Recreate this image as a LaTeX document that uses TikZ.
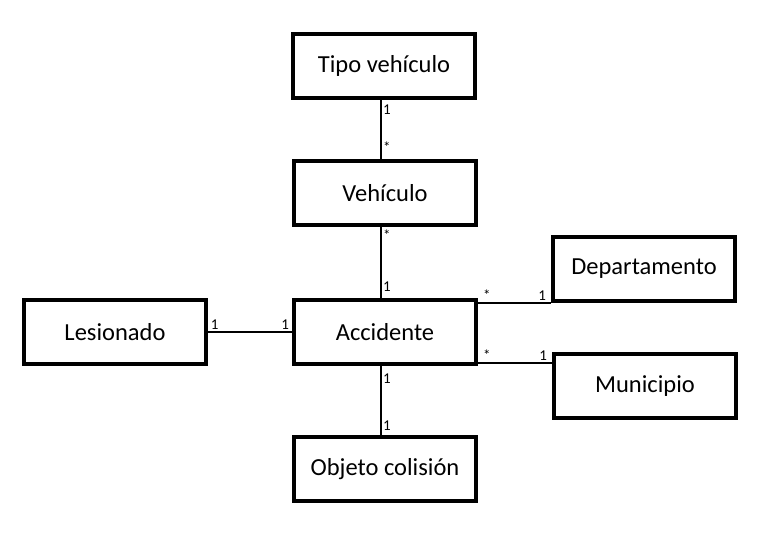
\documentclass[tikz,border=0pt]{standalone}
\usepackage{fontspec}
\setmainfont{Carlito}
\usepackage{tikz}

\begin{document}
\begin{tikzpicture}[
  x=1pt, y=-1pt,
  entity/.style={draw, line width=4pt, minimum width=182pt, minimum height=64pt, font=\fontsize{24.5}{26}\selectfont},
  link/.style={draw, line width=1.1pt},
  mult/.style={font=\fontsize{15}{16}\selectfont, inner sep=1.5pt}
]
\useasboundingbox (0,0) rectangle (776,535);

\node[entity] (tipo) at (384,66) {Tipo vehículo};
\node[entity] (veh) at (385,193) {Vehículo};
\node[entity] (acc) at (385,332) {Accidente};
\node[entity] (les) at (115,332) {Lesionado};
\node[entity] (dep) at (644,269) {Departamento};
\node[entity] (mun) at (645,386) {Municipio};
\node[entity] (obj) at (385,469) {Objeto colisión};

\coordinate (accmun) at ([yshift=3]acc.south east);

\draw[link] ([xshift=-3]tipo.south) -- node[mult, pos=0.17, right]{1} node[mult, pos=0.8, right]{*} ([xshift=-4]veh.north);
\draw[link] ([xshift=-4]veh.south) -- node[mult, pos=0.12, right]{*} node[mult, pos=0.84, right]{1} ([xshift=-4]acc.north);
\draw[link] (les.east) -- node[mult, pos=0.08, above]{1} node[mult, pos=0.92, above]{1} (acc.west);
\draw[link] (acc.east |- dep.south) -- node[mult, pos=0.12, above]{*} node[mult, pos=0.88, above]{1} (dep.south west);
\draw[link] (accmun) -- node[mult, pos=0.12, above]{*} node[mult, pos=0.88, above]{1} (mun.west |- accmun);
\draw[link] ([xshift=-4]acc.south) -- node[mult, pos=0.18, right]{1} node[mult, pos=0.86, right]{1} ([xshift=-4]obj.north);
\end{tikzpicture}
\end{document}
